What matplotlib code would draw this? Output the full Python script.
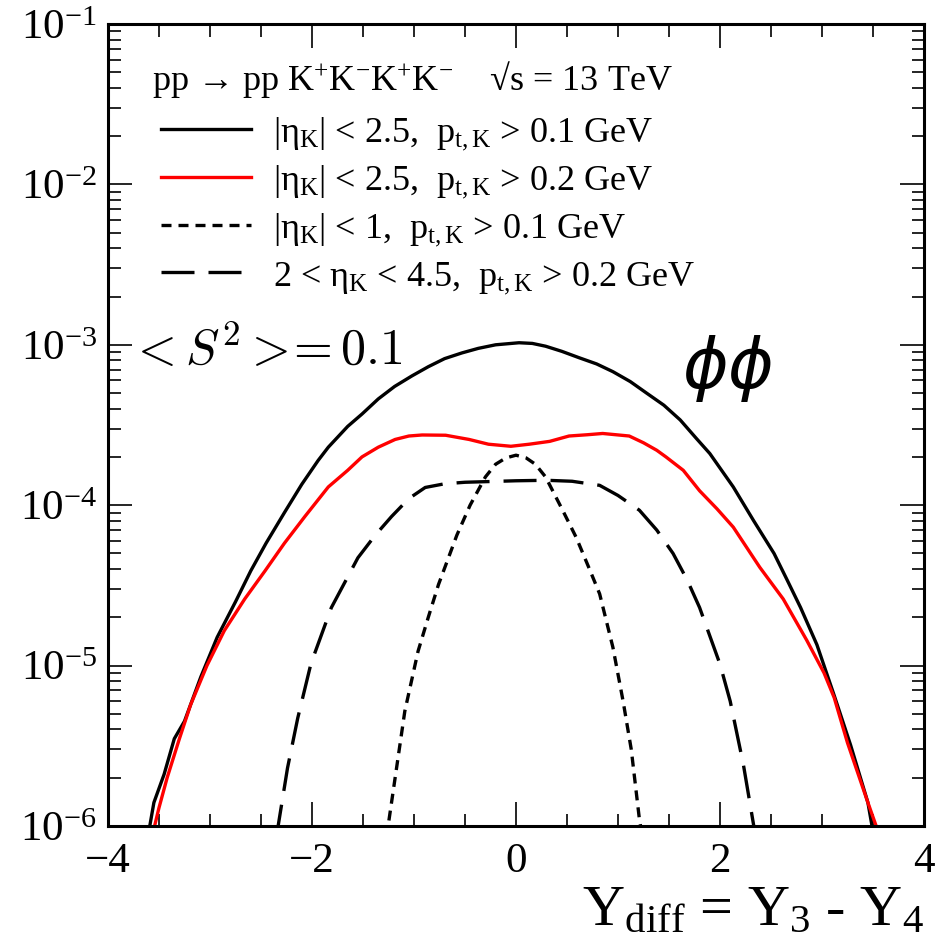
import matplotlib
matplotlib.use("Agg")
import matplotlib.pyplot as plt
from matplotlib.ticker import MultipleLocator, LogLocator, NullFormatter

plt.rcParams['font.family'] = 'Liberation Serif'
plt.rcParams['mathtext.fontset'] = 'custom'
plt.rcParams['mathtext.rm'] = 'Liberation Serif'
plt.rcParams['mathtext.it'] = 'Liberation Serif:italic'
plt.rcParams['mathtext.bf'] = 'Liberation Serif:bold'

# |eta_K| < 2.5, pt_K > 0.1 GeV
y_a = [-3.61, -3.55, -3.45, -3.35, -3.25, -3.09, -2.93, -2.75, -2.60, -2.45,
       -2.27, -2.10, -1.94, -1.84, -1.65, -1.51, -1.35, -1.19, -1.02, -0.86,
       -0.70, -0.53, -0.37, -0.20, 0.03, 0.16, 0.29, 0.45, 0.62, 0.79,
       0.95, 1.12, 1.28, 1.45, 1.61, 1.77, 1.90, 2.13, 2.33, 2.53,
       2.66, 2.79, 2.95, 3.12, 3.28, 3.45, 3.51]
s_a = [0.85e-6, 1.4e-6, 2.1e-6, 3.5e-6, 4.5e-6, 8.5e-6, 1.5e-5, 2.5e-5, 3.9e-5, 5.8e-5,
       9.0e-5, 1.35e-4, 1.9e-4, 2.3e-4, 3.1e-4, 3.7e-4, 4.6e-4, 5.5e-4, 6.4e-4, 7.3e-4,
       8.2e-4, 8.9e-4, 9.5e-4, 1.0e-3, 1.03e-3, 1.02e-3, 9.8e-4, 9.1e-4, 8.3e-4, 7.6e-4,
       6.8e-4, 5.9e-4, 5.0e-4, 4.2e-4, 3.4e-4, 2.6e-4, 2.1e-4, 1.3e-4, 8.0e-5, 5.0e-5,
       3.4e-5, 2.3e-5, 1.35e-5, 6.5e-6, 3.2e-6, 1.4e-6, 0.85e-6]

# |eta_K| < 2.5, pt_K > 0.2 GeV
y_b = [-3.57, -3.50, -3.42, -3.30, -3.19, -3.03, -2.86, -2.66, -2.46, -2.27,
       -2.07, -1.84, -1.65, -1.51, -1.35, -1.185, -1.05, -0.92, -0.69, -0.46,
       -0.27, -0.05, 0.13, 0.33, 0.52, 0.70, 0.85, 1.11, 1.25, 1.38,
       1.47, 1.64, 1.80, 1.97, 2.13, 2.39, 2.62, 2.85, 3.02, 3.12,
       3.25, 3.45, 3.57]
s_b = [0.85e-6, 1.3e-6, 2.0e-6, 3.5e-6, 5.7e-6, 1.0e-5, 1.65e-5, 2.6e-5, 3.9e-5, 5.8e-5,
       8.5e-5, 1.3e-4, 1.65e-4, 2.0e-4, 2.3e-4, 2.57e-4, 2.7e-4, 2.74e-4, 2.73e-4, 2.57e-4,
       2.4e-4, 2.33e-4, 2.4e-4, 2.5e-4, 2.7e-4, 2.75e-4, 2.8e-4, 2.7e-4, 2.45e-4, 2.2e-4,
       2.0e-4, 1.65e-4, 1.23e-4, 9.5e-5, 7.3e-5, 4.1e-5, 2.6e-5, 1.44e-5, 9.0e-6, 6.3e-6,
       3.3e-6, 1.4e-6, 0.85e-6]

# |eta_K| < 1, pt_K > 0.1 GeV
y_c = [-1.27, -1.18, -1.09, -0.96, -0.86, -0.76, -0.58, -0.45, -0.30, -0.20,
       -0.10, 0.00, 0.10, 0.19, 0.29, 0.45, 0.59, 0.72, 0.82, 0.95,
       1.05, 1.13, 1.21, 1.24]
s_c = [0.85e-6, 2.1e-6, 5.2e-6, 1.23e-5, 2.0e-5, 3.2e-5, 6.5e-5, 1.0e-4, 1.5e-4, 1.8e-4,
       1.97e-4, 2.05e-4, 1.97e-4, 1.8e-4, 1.5e-4, 9.5e-5, 6.3e-5, 4.0e-5, 2.8e-5, 1.3e-5,
       6.0e-6, 3.0e-6, 1.1e-6, 0.85e-6]

# 2 < eta_K < 4.5, pt_K > 0.2 GeV
y_d = [-2.35, -2.24, -2.14, -2.01, -1.81, -1.55, -1.38, -1.22, -1.05, -0.89,
       -0.70, -0.50, 0.00, 0.30, 0.55, 0.82, 1.00, 1.21, 1.38, 1.54,
       1.68, 1.80, 2.00, 2.10, 2.23, 2.35]
s_d = [0.85e-6, 2.3e-6, 4.7e-6, 1.03e-5, 2.3e-5, 4.7e-5, 6.5e-5, 8.5e-5, 1.1e-4, 1.29e-4,
       1.36e-4, 1.39e-4, 1.42e-4, 1.43e-4, 1.41e-4, 1.33e-4, 1.15e-4, 9.3e-5, 7.0e-5, 5.0e-5,
       3.4e-5, 2.3e-5, 1.02e-5, 6.0e-6, 2.4e-6, 0.85e-6]

labels = [
    r'|η$_{\mathrm{K}}$| < 2.5,  p$_{\mathrm{t,K}}$ > 0.1 GeV',
    r'|η$_{\mathrm{K}}$| < 2.5,  p$_{\mathrm{t,K}}$ > 0.2 GeV',
    r'|η$_{\mathrm{K}}$| < 1,  p$_{\mathrm{t,K}}$ > 0.1 GeV',
    r'2 < η$_{\mathrm{K}}$ < 4.5,  p$_{\mathrm{t,K}}$ > 0.2 GeV',
]

fig = plt.figure(figsize=(9.44, 9.49), dpi=100)
ax = fig.add_axes([108 / 944, 1 - 826 / 949, 816 / 944, 802 / 949])

lw = 2.4
l1, = ax.plot(y_a, s_a, color='black', lw=lw)
l2, = ax.plot(y_b, s_b, color='red', lw=lw)
l3, = ax.plot(y_c, s_c, color='black', lw=lw, dashes=(3.0, 2.1))
l4, = ax.plot(y_d, s_d, color='black', lw=lw, dashes=(9.9, 4.2))

ax.set_yscale('log')
ax.set_xlim(-4, 4)
ax.set_ylim(1e-6, 1e-1)

ax.xaxis.set_major_locator(MultipleLocator(2))
ax.xaxis.set_minor_locator(MultipleLocator(0.5))
ax.yaxis.set_major_locator(LogLocator(base=10, numticks=10))
ax.yaxis.set_minor_locator(LogLocator(base=10, subs=range(2, 10), numticks=20))
ax.yaxis.set_minor_formatter(NullFormatter())

ax.tick_params(which='both', direction='in', top=True, right=True, width=1.2)
ax.tick_params(which='major', length=17, labelsize=31)
ax.tick_params(axis='x', which='major', pad=12)
ax.tick_params(axis='y', which='major', pad=8)
ax.tick_params(which='minor', length=9)
for sp in ax.spines.values():
    sp.set_linewidth(2.2)

leg = ax.legend([l1, l2, l3, l4], labels, loc='upper left',
                bbox_to_anchor=(0.025, 0.927), frameon=False, fontsize=26,
                handlelength=2.5, handletextpad=0.6, labelspacing=0.31,
                borderpad=0.4)

ax.text(0.054, 0.918, 'pp → pp K$^{+}$K$^{-}$K$^{+}$K$^{-}$    √s = 13 TeV',
        transform=ax.transAxes, fontsize=26, va='baseline', ha='left')

ax.text(0.026, 0.575, r'$<S^2>\!\!=0.1$', transform=ax.transAxes, fontsize=36,
        va='baseline', ha='left', math_fontfamily='cm')

ax.text(0.703, 0.546, r'$\phi\phi$', transform=ax.transAxes, fontsize=50,
        va='baseline', ha='left', math_fontfamily='dejavusans')

ax.set_xlabel(r'Y$_{\mathrm{diff}}$ = Y$_{3}$ - Y$_{4}$', fontsize=42,
              loc='right', labelpad=3)

fig.savefig('out.png', dpi=100)
